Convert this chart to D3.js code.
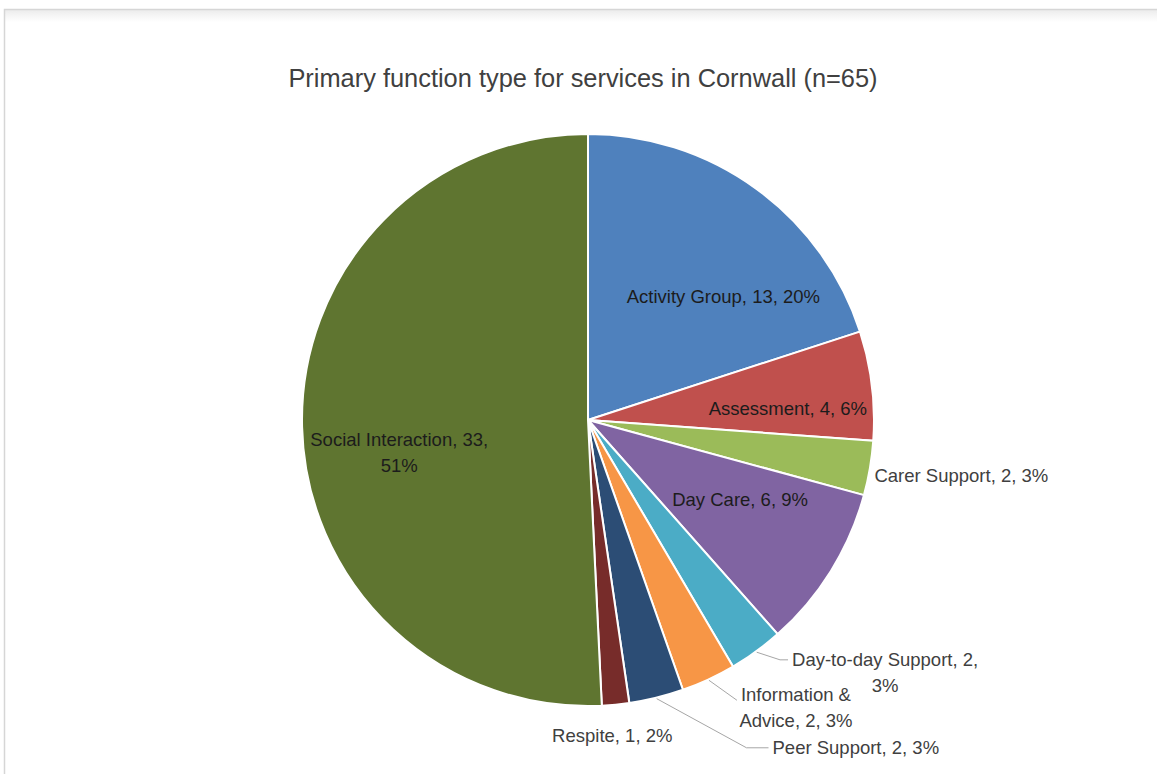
<!DOCTYPE html>
<html>
<head>
<meta charset="utf-8">
<script src="https://cdn.jsdelivr.net/npm/d3@7"></script>
<style>
  html, body { margin: 0; padding: 0; background: #ffffff; }
  svg { display: block; }
</style>
</head>
<body>
<svg id="chart" width="1157" height="774"></svg>
<script>
// ---- data ----
const categories = [
  "Activity Group", "Assessment", "Carer Support", "Day Care",
  "Day-to-day Support", "Information & Advice", "Peer Support",
  "Respite", "Social Interaction"
];
const counts   = [13, 4, 2, 6, 2, 2, 2, 1, 33];
const percents = [20, 6, 3, 9, 3, 3, 3, 2, 51];
const chartTitle = "Primary function type for services in Cornwall (n=65)";

// ---- styling ----
const palette = ["#4F81BD", "#C0504D", "#9BBB59", "#8064A2", "#4BACC6",
                 "#F79646", "#2C4D75", "#772C2A", "#5F7530"];
const fontFamily = "'Liberation Sans', Arial, sans-serif";

// label placement: angle in degrees clockwise from 12 o'clock, distance as a
// fraction of the radius, words kept on the first line, leader line options
const placement = {
  "Activity Group":       { angle: 47.7,  dist: 0.64, inside: true },
  "Assessment":           { angle: 86.8,  dist: 0.70, inside: true },
  "Carer Support":        { angle: 98.5,  dist: 1.32 },
  "Day Care":             { angle: 117.6, dist: 0.60, inside: true },
  "Day-to-day Support":   { angle: 130.4, dist: 1.364, wrap: 3, leader: { line: 0, elbow: 8 } },
  "Information & Advice": { angle: 144.1, dist: 1.24,  wrap: 2, leader: { line: 0, elbow: 0, dy: 6 } },
  "Peer Support":         { angle: 140.75, dist: 1.48, leader: { line: 0, elbow: 22 } },
  "Respite":              { angle: 175.6, dist: 1.105 },
  "Social Interaction":   { angle: 260.1, dist: 0.67, wrap: 3, inside: true }
};

const width = 1157, height = 774;
const cx = 588, cy = 420, radius = 286;

const svg = d3.select("#chart");

// outer frame of the chart area
const frame = svg.append("g");
const shadow = svg.append("defs").append("linearGradient")
  .attr("id", "frameShade").attr("x1", 0).attr("x2", 0).attr("y1", 0).attr("y2", 1);
shadow.append("stop").attr("offset", 0).attr("stop-color", "#ececec");
shadow.append("stop").attr("offset", 1).attr("stop-color", "#ffffff");
frame.append("rect").attr("x", 5).attr("y", 10).attr("width", width).attr("height", 12)
  .attr("fill", "url(#frameShade)");
frame.append("path")
  .attr("d", `M4.5,${height} V9.5 H${width}`)
  .attr("fill", "none").attr("stroke", "#d6d6d6").attr("stroke-width", 1.5);

// title
svg.append("text")
  .attr("x", 583).attr("y", 78)
  .attr("text-anchor", "middle")
  .attr("dominant-baseline", "central")
  .attr("font-family", fontFamily)
  .attr("font-size", 25.4)
  .attr("fill", "#404040")
  .text(chartTitle);

// pie layout: start at 12 o'clock, clockwise, in data order
const rows = categories.map((c, i) => ({ category: c, count: counts[i], percent: percents[i], color: palette[i] }));
const pie = d3.pie().value(d => d.count).sort(null);
const arcs = pie(rows);
const arc = d3.arc().innerRadius(0).outerRadius(radius);

const g = svg.append("g").attr("transform", `translate(${cx},${cy})`);

g.selectAll("path.slice")
  .data(arcs)
  .join("path")
  .attr("class", "slice")
  .attr("d", arc)
  .attr("fill", d => d.data.color)
  .attr("stroke", "#ffffff")
  .attr("stroke-width", 2)
  .attr("stroke-linejoin", "round");

const polar = (angleDeg, r) => {
  const a = angleDeg * Math.PI / 180;
  return [r * Math.sin(a), -r * Math.cos(a)];
};

const lineHeight = 26;
const labelLayer = g.append("g");
const leaderLayer = g.insert("g", () => labelLayer.node());

arcs.forEach(d => {
  const p = placement[d.data.category];
  const words = `${d.data.category}, ${d.data.count}, ${d.data.percent}%`.split(" ");
  const lines = p.wrap ? [words.slice(0, p.wrap).join(" "), words.slice(p.wrap).join(" ")]
                       : [words.join(" ")];
  const [x, y] = polar(p.angle, p.dist * radius);
  const y0 = y - (lines.length - 1) * lineHeight / 2;

  const text = labelLayer.append("text")
    .attr("text-anchor", "middle")
    .attr("font-family", fontFamily)
    .attr("font-size", 18.5)
    .attr("fill", p.inside ? "#1c1c1c" : "#404040");
  const spans = lines.map((ln, i) =>
    text.append("tspan")
      .attr("x", x)
      .attr("y", y0 + i * lineHeight)
      .attr("dominant-baseline", "central")
      .text(ln));

  if (p.leader) {
    const mid = (d.startAngle + d.endAngle) / 2 * 180 / Math.PI;
    const start = polar(mid, radius + 1);
    const box = spans[p.leader.line].node().getBBox();
    const end = [box.x - 4, box.y + box.height / 2 + (p.leader.dy || 0)];
    const pts = [start];
    if (p.leader.elbow) pts.push([end[0] - p.leader.elbow, end[1]]);
    pts.push(end);
    leaderLayer.append("path")
      .attr("d", d3.line()(pts))
      .attr("fill", "none")
      .attr("stroke", "#a6a6a6")
      .attr("stroke-width", 1);
  }
});
</script>
</body>
</html>
